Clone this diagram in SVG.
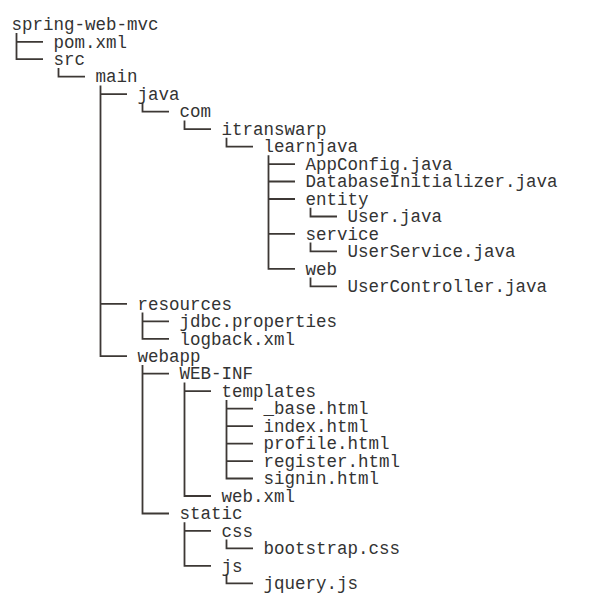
<svg xmlns="http://www.w3.org/2000/svg" width="589" height="613" viewBox="0 0 589 613">
<style>
text{font-family:"Liberation Mono","DejaVu Sans Mono",monospace;font-size:17.5px;fill:#333333}
.c{fill:none;stroke:#3d3835;stroke-width:1.8}
</style>
<rect width="589" height="613" fill="#ffffff"/>
<g id="connectors" class="c">
<path d="M16.5 33V59.2H43M16.5 41.8H43"/>
<path d="M58.5 67.9V76.7H85"/>
<path d="M100.5 85.4V356.2H127M100.5 94.2H127M100.5 303.8H127"/>
<path d="M142.5 102.9V111.7H169"/>
<path d="M184.5 120.4V129.1H211"/>
<path d="M226.5 137.8V146.6H253"/>
<path d="M268.5 155.3V268.9H295M268.5 164.1H295M268.5 181.5H295M268.5 199H295M268.5 233.9H295"/>
<path d="M310.5 207.7V216.5H337"/>
<path d="M310.5 242.6V251.4H337"/>
<path d="M310.5 277.6V286.4H337"/>
<path d="M142.5 312.5V338.8H169M142.5 321.3H169"/>
<path d="M142.5 364.9V513.5H169M142.5 373.7H169"/>
<path d="M184.5 382.4V496H211M184.5 391.2H211"/>
<path d="M226.5 399.9V478.5H253M226.5 408.6H253M226.5 426.1H253M226.5 443.6H253M226.5 461.1H253"/>
<path d="M184.5 522.2V565.9H211M184.5 530.9H211"/>
<path d="M226.5 539.6V548.4H253"/>
<path d="M226.5 574.6V583.3H253"/>
</g>
<g id="n0"><text x="11.5" y="30">spring-web-mvc</text></g>
<g id="n1"><text x="53.5" y="47.5">pom.xml</text></g>
<g id="n2"><text x="53.5" y="64.9">src</text></g>
<g id="n3"><text x="95.5" y="82.4">main</text></g>
<g id="n4"><text x="137.5" y="99.9">java</text></g>
<g id="n5"><text x="179.5" y="117.4">com</text></g>
<g id="n6"><text x="221.5" y="134.8">itranswarp</text></g>
<g id="n7"><text x="263.5" y="152.3">learnjava</text></g>
<g id="n8"><text x="305.5" y="169.8">AppConfig.java</text></g>
<g id="n9"><text x="305.5" y="187.2">DatabaseInitializer.java</text></g>
<g id="n10"><text x="305.5" y="204.7">entity</text></g>
<g id="n11"><text x="347.5" y="222.2">User.java</text></g>
<g id="n12"><text x="305.5" y="239.6">service</text></g>
<g id="n13"><text x="347.5" y="257.1">UserService.java</text></g>
<g id="n14"><text x="305.5" y="274.6">web</text></g>
<g id="n15"><text x="347.5" y="292.1">UserController.java</text></g>
<g id="n16"><text x="137.5" y="309.5">resources</text></g>
<g id="n17"><text x="179.5" y="327">jdbc.properties</text></g>
<g id="n18"><text x="179.5" y="344.5">logback.xml</text></g>
<g id="n19"><text x="137.5" y="361.9">webapp</text></g>
<g id="n20"><text x="179.5" y="379.4">WEB-INF</text></g>
<g id="n21"><text x="221.5" y="396.9">templates</text></g>
<g id="n22"><text x="263.5" y="414.3">_base.html</text></g>
<g id="n23"><text x="263.5" y="431.8">index.html</text></g>
<g id="n24"><text x="263.5" y="449.3">profile.html</text></g>
<g id="n25"><text x="263.5" y="466.8">register.html</text></g>
<g id="n26"><text x="263.5" y="484.2">signin.html</text></g>
<g id="n27"><text x="221.5" y="501.7">web.xml</text></g>
<g id="n28"><text x="179.5" y="519.2">static</text></g>
<g id="n29"><text x="221.5" y="536.6">css</text></g>
<g id="n30"><text x="263.5" y="554.1">bootstrap.css</text></g>
<g id="n31"><text x="221.5" y="571.6">js</text></g>
<g id="n32"><text x="263.5" y="589">jquery.js</text></g>
</svg>
